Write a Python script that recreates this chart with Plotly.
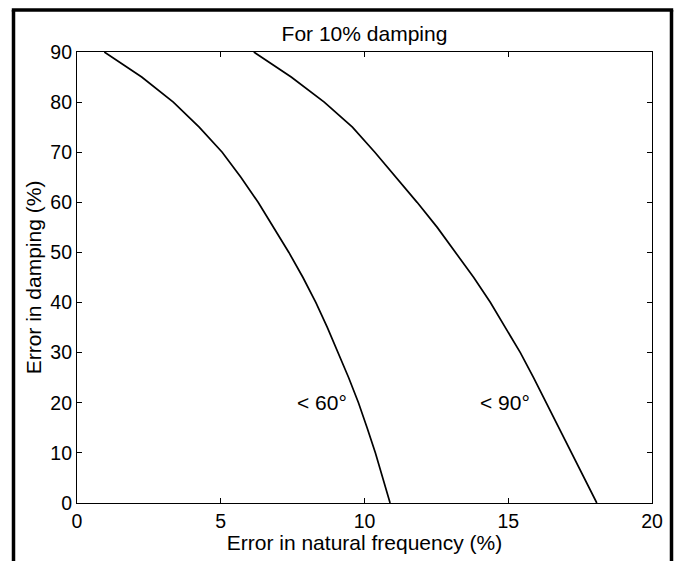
import plotly.graph_objects as go

# Error in damping (%) levels
damping_err = [0, 5, 10, 15, 20, 25, 30, 35, 40, 45, 50, 55, 60, 65, 70, 75, 80, 85, 90]
# Error in natural frequency (%) for the "< 60°" curve
freq_err_60 = [10.89, 10.64, 10.38, 10.09, 9.79, 9.45, 9.09, 8.71, 8.31, 7.86, 7.37, 6.85, 6.3, 5.7, 5.05, 4.25, 3.35, 2.25, 0.95]
# Error in natural frequency (%) for the "< 90°" curve
freq_err_90 = [18.08, 17.645, 17.21, 16.775, 16.33, 15.88, 15.42, 14.91, 14.38, 13.8, 13.18, 12.53, 11.83, 11.1, 10.36, 9.58, 8.6, 7.45, 6.15]

labels = ["< 60°", "< 90°"]
label_x = [8.52, 14.89]
label_y = [20, 20]

x_ticks = [0, 5, 10, 15, 20]
y_ticks = [0, 10, 20, 30, 40, 50, 60, 70, 80, 90]

FONT = "Liberation Sans, Arial, Helvetica, sans-serif"

fig = go.Figure()
for xs in (freq_err_60, freq_err_90):
    fig.add_trace(go.Scatter(x=xs, y=damping_err, mode="lines",
                             line=dict(color="black", width=1.7),
                             showlegend=False, hoverinfo="skip"))

for t, x, y in zip(labels, label_x, label_y):
    fig.add_annotation(x=x, y=y, text=t, showarrow=False,
                       font=dict(family=FONT, size=21, color="black"),
                       xanchor="center", yanchor="middle")

axis_common = dict(showgrid=False, zeroline=False, showline=True, linecolor="black",
                   linewidth=1.2, mirror="ticks", ticks="inside", ticklen=5,
                   tickwidth=1, tickcolor="black",
                   tickfont=dict(family=FONT, size=19.5, color="black"))

fig.update_xaxes(range=[0, 20], tickvals=x_ticks,
                 title=dict(text="Error in natural frequency (%)", standoff=3,
                            font=dict(family=FONT, size=21, color="black")),
                 **axis_common)
fig.update_yaxes(range=[0, 90], tickvals=y_ticks,
                 title=dict(text="Error in damping (%)", standoff=2,
                            font=dict(family=FONT, size=21, color="black")),
                 **axis_common)

# outer frame (top, left, right)
W, H = 679, 561
L, R, T, B = 77, 27, 52, 54
pw, ph = W - L - R, H - T - B
def px(xp):
    return (xp - L) / pw
def py(yp):
    return (H - B - yp) / ph
frame = dict(color="black", width=3.5)
fig.add_shape(type="line", xref="paper", yref="paper", x0=px(13.5), x1=px(13.5), y0=py(9.7), y1=py(570), line=frame)
fig.add_shape(type="line", xref="paper", yref="paper", x0=px(671.5), x1=px(671.5), y0=py(9.7), y1=py(570), line=frame)
fig.add_shape(type="line", xref="paper", yref="paper", x0=px(11.8), x1=px(673.2), y0=py(9.7), y1=py(9.7), line=frame)

fig.update_layout(
    width=W, height=H,
    margin=dict(l=L, r=R, t=T, b=B),
    paper_bgcolor="white", plot_bgcolor="white",
    title=dict(text="For 10% damping", x=0.5, xref="paper", xanchor="center",
               y=1 - 34 / H, yanchor="middle",
               font=dict(family=FONT, size=21, color="black")),
    font=dict(family=FONT, color="black"),
)

fig.write_html("out.html")
